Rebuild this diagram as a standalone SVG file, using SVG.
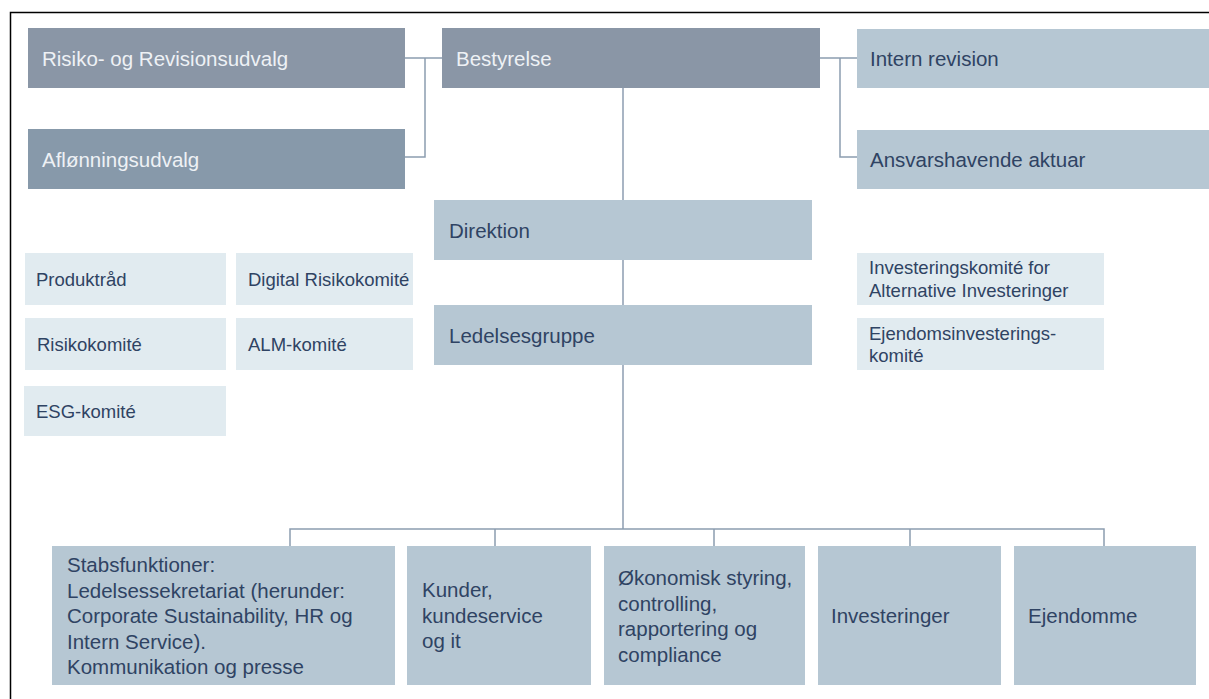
<svg xmlns="http://www.w3.org/2000/svg" width="1209" height="699" viewBox="0 0 1209 699">
<style>
text{font-family:"Liberation Sans",Arial,sans-serif}
.big{font-size:20.5px}
.sm{font-size:18.5px}
.wt{fill:#EEF1F5}
.dk{fill:#2F4363}
.d1{fill:#8A96A6}
.d2{fill:#8799AA}
.l1{fill:#B6C7D3}
.l2{fill:#E1EBF0}
.cn{fill:none;stroke:#8C9DB0;stroke-width:1.5}
</style>
<rect x="0" y="0" width="1209" height="699" fill="#FFFFFF"/>
<path d="M10.5 699 V12.5 H1209" fill="none" stroke="#000" stroke-width="1.5"/>
<g id="connectors">
<path class="cn" d="M405 58 H442 M425 58 V157 H405"/>
<path class="cn" d="M820 58 H857 M840 58 V157 H857"/>
<path class="cn" d="M623 88 V529"/>
<path class="cn" d="M290 546 V529 H1104 V546 M495 529 V546 M714 529 V546 M910 529 V546"/>
</g>
<g id="risiko"><rect class="d1" x="28" y="28" width="377" height="60"/><text class="big wt" x="42" y="66">Risiko- og Revisionsudvalg</text></g>
<g id="aflonning"><rect class="d2" x="28" y="129" width="377" height="60"/><text class="big wt" x="42" y="167">Aflønningsudvalg</text></g>
<g id="bestyrelse"><rect class="d1" x="442" y="28" width="378" height="60"/><text class="big wt" x="456" y="66">Bestyrelse</text></g>
<g id="intern"><rect class="l1" x="857" y="29" width="352" height="59"/><text class="big dk" x="870" y="66">Intern revision</text></g>
<g id="aktuar"><rect class="l1" x="857" y="130" width="352" height="59"/><text class="big dk" x="870" y="167">Ansvarshavende aktuar</text></g>
<g id="direktion"><rect class="l1" x="434" y="200" width="378" height="60"/><text class="big dk" x="449" y="238">Direktion</text></g>
<g id="ledelsesgruppe"><rect class="l1" x="434" y="305" width="378" height="60"/><text class="big dk" x="449" y="343">Ledelsesgruppe</text></g>
<g id="produktraad"><rect class="l2" x="25" y="253" width="201" height="52"/><text class="sm dk" x="36" y="286">Produktråd</text></g>
<g id="digital"><rect class="l2" x="236" y="253" width="177" height="52"/><text class="sm dk" x="248" y="286">Digital Risikokomité</text></g>
<g id="risikokomite"><rect class="l2" x="25" y="318" width="201" height="52"/><text class="sm dk" x="37" y="351">Risikokomité</text></g>
<g id="alm"><rect class="l2" x="236" y="318" width="177" height="52"/><text class="sm dk" x="248" y="351">ALM-komité</text></g>
<g id="esg"><rect class="l2" x="24" y="386" width="202" height="50"/><text class="sm dk" x="36" y="418">ESG-komité</text></g>
<g id="invkomite"><rect class="l2" x="857" y="253" width="247" height="52"/><text class="sm dk"><tspan x="869" y="274">Investeringskomité for</tspan><tspan x="869" y="297">Alternative Investeringer</tspan></text></g>
<g id="ejdkomite"><rect class="l2" x="857" y="318" width="247" height="52"/><text class="sm dk"><tspan x="869" y="340">Ejendomsinvesterings-</tspan><tspan x="869" y="362">komité</tspan></text></g>
<g id="stabs"><rect class="l1" x="52" y="546" width="343" height="139"/><text class="big dk"><tspan x="67" y="572">Stabsfunktioner:</tspan><tspan x="67" y="597.5">Ledelsessekretariat (herunder:</tspan><tspan x="67" y="623">Corporate Sustainability, HR og</tspan><tspan x="67" y="648.5">Intern Service).</tspan><tspan x="67" y="674">Kommunikation og presse</tspan></text></g>
<g id="kunder"><rect class="l1" x="407" y="546" width="184" height="139"/><text class="big dk"><tspan x="422" y="597">Kunder,</tspan><tspan x="422" y="622.5">kundeservice</tspan><tspan x="422" y="648">og it</tspan></text></g>
<g id="okonomi"><rect class="l1" x="604" y="546" width="201" height="139"/><text class="big dk"><tspan x="618" y="585">Økonomisk styring,</tspan><tspan x="618" y="610.5">controlling,</tspan><tspan x="618" y="636">rapportering og</tspan><tspan x="618" y="661.5">compliance</tspan></text></g>
<g id="investeringer"><rect class="l1" x="818" y="546" width="183" height="139"/><text class="big dk" x="831" y="623">Investeringer</text></g>
<g id="ejendomme"><rect class="l1" x="1014" y="546" width="182" height="139"/><text class="big dk" x="1028" y="623">Ejendomme</text></g>
</svg>
